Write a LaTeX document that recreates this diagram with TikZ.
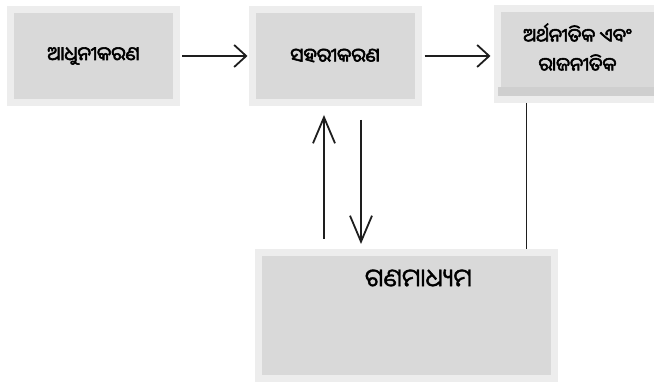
\documentclass[tikz,border=0pt]{standalone}
\usepackage{fontspec}
\usetikzlibrary{arrows.meta}
\newfontfamily\odia[Script=Oriya,FakeBold=1.5]{Noto Sans Oriya UI}
\newfontfamily\odiabold[Script=Oriya,FakeBold=3]{Noto Sans Oriya UI}
\definecolor{boxfill}{HTML}{D9D9D9}
\definecolor{boxedge}{HTML}{EDEDED}
\definecolor{strip}{HTML}{CFCFCF}
\definecolor{ink}{HTML}{1E1E1E}

\begin{document}
\begin{tikzpicture}[x=1pt, y=1pt, box/.style = {shape=rectangle, draw=boxedge, line width=7pt, fill=boxfill, align=center, inner sep=0pt}, small/.style = {box, minimum width=166pt, minimum height=93pt, font=\odiabold\fontsize{19}{22}\selectfont}, flow/.style = {draw=ink, line width=1.8pt, -{Straight Barb[length=12pt, width=22pt, line width=1.8pt]}}, updown/.style = {flow, -{Straight Barb[length=26pt, width=22pt, line width=1.8pt]}}, link/.style = {draw=ink, line width=1.8pt}]
	\useasboundingbox (0,0) rectangle (654,382);
	\node[small] (modern) at (93.5,326) {ଆଧୁନୀକରଣ};
	\node[small] (urban) at (335,326) {ସହରୀକରଣ};
	\node[box, minimum width=165pt, minimum height=90.5pt, label={[align=center, yshift=6.5pt, xshift=-2pt, font=\odiabold\fontsize{18.5}{29}\selectfont]center:ଅର୍ଥନୀତିକ ଏବଂ\\ରାଜନୀତିକ}] (econ) at (579.5,327.75) {};
	\fill[strip] ([shift={(4pt,7pt)}]econ.south west) rectangle ([shift={(-4pt,16pt)}]econ.south east);
	\node[box, minimum width=296pt, minimum height=126.5pt, label={[anchor=center, yshift=-30pt, xshift=12pt, font=\odia\fontsize{25}{30}\selectfont]north:ଗଣମାଧ୍ୟମ}] (media) at (406.5,66.25) {};
	\draw[flow, shorten <=2pt, shorten >=1pt] (modern) -- (urban);
	\draw[flow, shorten <=3pt, shorten >=3pt] (urban.east) -- (urban.east -| econ.west);
	\draw[updown, shorten <=10pt, shorten >=9pt] ([xshift=-11pt]urban.south |- media.north) -- ([xshift=-11pt]urban.south);
	\draw[updown, shorten <=14pt, shorten >=5pt] ([xshift=26pt]urban.south) -- ([xshift=26pt]urban.south |- media.north);
	\draw[link] ([xshift=-53pt]econ.south) -- ([xshift=-53pt]econ.south |- media.north);
\end{tikzpicture}
\end{document}
